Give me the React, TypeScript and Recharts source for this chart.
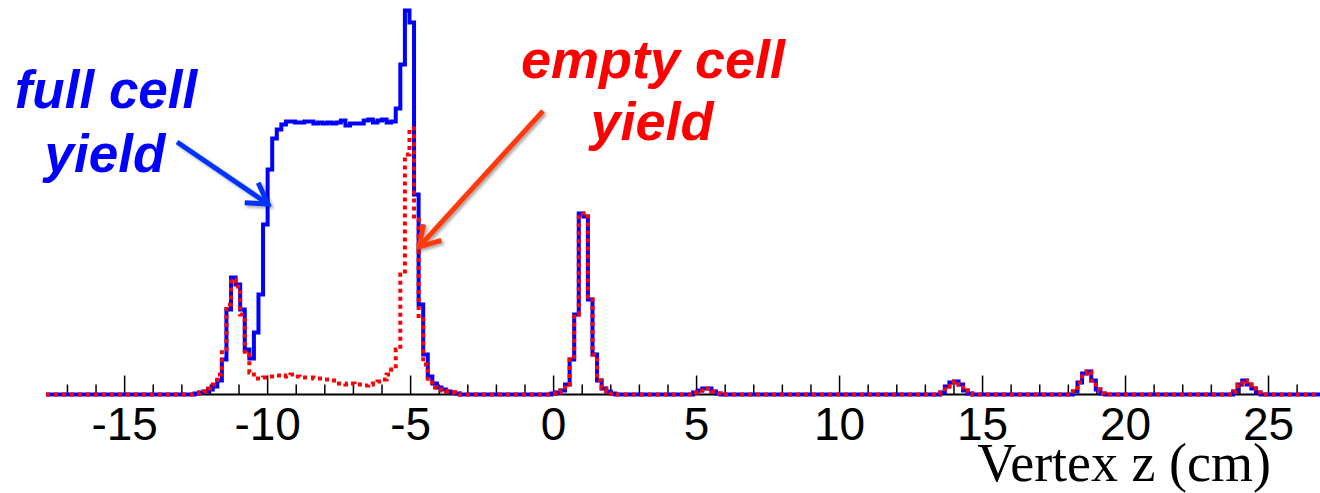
import { LineChart, Line, XAxis, YAxis } from 'recharts';

// histogram binning (cm)
const Z_MIN = -17.75;
const Z_MAX = 26.8;
const BIN_ORIGIN = -12.56;
const BIN_WIDTH = 0.16;

const majorTicks = [-15, -10, -5, 0, 5, 10, 15, 20, 25];
const minorTicks = [-17, -16, -15, -14, -13, -12, -11, -10, -9, -8, -7, -6, -5, -4, -3, -2, -1, 0, 1, 2, 3, 4, 5, 6, 7, 8, 9, 10, 11, 12, 13, 14, 15, 16, 17, 18, 19, 20, 21, 22, 23, 24, 25, 26];

// full cell: window peak, LH2 plateau, exit window
const fullTargetCounts = [
  1, 2, 3, 5, 8, 14, 35, 85, 117, 110,
  85, 45, 36, 62, 100, 170, 225, 256, 265, 270,
  273, 273, 272, 272, 273, 273, 271, 272, 271, 272,
  271, 272, 274, 269, 271, 271, 271, 274, 275, 272,
  274, 275, 272, 273, 286, 330, 384, 372, 200, 90,
  40, 18, 11, 7, 5, 3, 2, 1,
];
// empty cell: same windows, only gas left in between
const emptyTargetCounts = [
  1, 2, 3, 6, 10, 20, 45, 90, 115, 108,
  80, 40, 22, 16, 16, 17, 18, 18, 19, 18,
  19, 20, 18, 17, 17, 17, 16, 16, 15, 15,
  14, 11, 11, 10, 11, 10, 10, 9, 10, 11,
  13, 15, 20, 25, 45, 120, 240, 266, 175, 75,
  30, 12, 7, 5, 4, 3, 2, 1,
];
const peakAt1 = [1, 2, 4, 10, 35, 80, 181, 178, 95, 40, 14, 6, 3, 1];
const bumpAt5 = [2, 4, 6, 6, 3, 1];
const bumpAt14 = [2, 8, 12, 13, 10, 4, 1];
const bumpAt19 = [3, 12, 21, 23, 14, 5, 1];
const bumpAt24 = [3, 10, 14, 10, 6, 2];

const fullRuns = [
  { from: -12.56, counts: fullTargetCounts },
  { from: -0.08, counts: peakAt1 },
  { from: 4.88, counts: bumpAt5 },
  { from: 13.52, counts: bumpAt14 },
  { from: 18.16, counts: bumpAt19 },
  { from: 23.76, counts: bumpAt24 },
];
const emptyRuns = [
  { from: -12.56, counts: emptyTargetCounts },
  { from: -0.08, counts: peakAt1 },
  { from: 4.88, counts: bumpAt5 },
  { from: 13.52, counts: bumpAt14 },
  { from: 18.16, counts: bumpAt19 },
  { from: 23.76, counts: bumpAt24 },
];

function toBins(runs: { from: number; counts: number[] }[]) {
  const m = new Map<number, number>();
  runs.forEach(r => {
    const start = Math.round((r.from - BIN_ORIGIN) / BIN_WIDTH);
    r.counts.forEach((c, k) => m.set(start + k, c));
  });
  return m;
}

const fullBins = toBins(fullRuns);
const emptyBins = toBins(emptyRuns);
const lastBin = Math.max(...fullBins.keys(), ...emptyBins.keys()) + 1;

const rows: { z: number; full: number; empty: number }[] = [{ z: Z_MIN, full: 0, empty: 0 }];
for (let i = 0; i <= lastBin; i++) {
  rows.push({ z: BIN_ORIGIN + i * BIN_WIDTH, full: fullBins.get(i) ?? 0, empty: emptyBins.get(i) ?? 0 });
}
rows.push({ z: Z_MAX, full: 0, empty: 0 });

const AxisTick = ({ x, y, payload }: any) => {
  const major = majorTicks.includes(payload.value);
  return (
    <g>
      <line x1={x} x2={x} y1={y} y2={y - (major ? 19 : 10)} stroke="#000" strokeWidth={1.5} />
      {major && (
        <text x={x} y={y + 45} textAnchor="middle" fontSize={46} fill="#000"
          fontFamily="'Liberation Sans', Arial, sans-serif">
          {payload.value}
        </text>
      )}
    </g>
  );
};

const annoFont = "'Liberation Sans', Arial, sans-serif";
const margin = { top: 4.5, right: 0, bottom: 0, left: 46 };
const layer = { position: 'absolute' as const, left: 0, top: 0 };

export default function App() {
  return (
    <div style={{ position: 'absolute', left: 0, top: 0, width: 1320, height: 493, background: '#fff' }}>
      {/* axis layer, under the histograms */}
      <div style={layer}>
        <LineChart width={1320} height={493} data={rows} margin={margin}>
          <XAxis type="number" dataKey="z" domain={[Z_MIN, Z_MAX]} ticks={minorTicks} interval={0}
            tickLine={false} tickSize={0} tickMargin={0} height={98.5}
            axisLine={{ stroke: '#000', strokeWidth: 2 }} tick={<AxisTick />} />
          <YAxis hide domain={[0, 390]} />
        </LineChart>
      </div>
      {/* histogram layer */}
      <div style={layer}>
        <LineChart width={1320} height={493} data={rows} margin={margin}>
          <XAxis type="number" dataKey="z" domain={[Z_MIN, Z_MAX]} ticks={minorTicks} tick={false}
            tickLine={false} axisLine={false} height={98.5} />
          <YAxis hide domain={[0, 390]} />
          <Line type="stepAfter" dataKey="full" stroke="#0000ff" strokeWidth={4} dot={false} activeDot={false}
            strokeLinejoin="miter" isAnimationActive={false} />
          <Line type="stepAfter" dataKey="empty" stroke="#ff0000" strokeWidth={4} strokeDasharray="4 4"
            dot={false} activeDot={false} strokeLinejoin="miter" isAnimationActive={false} />
        </LineChart>
      </div>
      <svg width={1320} height={493} style={{ ...layer, pointerEvents: 'none' }}>
        <defs>
          <filter id="shadow" x="-20%" y="-20%" width="140%" height="140%">
            <feDropShadow dx="2" dy="2" stdDeviation="1.5" floodOpacity="0.35" />
          </filter>
          <marker id="headBlue" viewBox="-26 -16 30 32" markerWidth={30} markerHeight={32} refX={0} refY={0}
            orient="auto" markerUnits="userSpaceOnUse">
            <path d="M-20,-12 L0,0 L-20,12" fill="none" stroke="#0033ff" strokeWidth={5} strokeLinejoin="miter" />
          </marker>
          <marker id="headRed" viewBox="-26 -16 30 32" markerWidth={30} markerHeight={32} refX={0} refY={0}
            orient="auto" markerUnits="userSpaceOnUse">
            <path d="M-20,-12 L0,0 L-20,12" fill="none" stroke="#ff3a0a" strokeWidth={5} strokeLinejoin="miter" />
          </marker>
        </defs>
        <line x1={177} y1={142} x2={268} y2={204} stroke="#0033ff" strokeWidth={5}
          markerEnd="url(#headBlue)" filter="url(#shadow)" />
        <line x1={543} y1={111} x2={419} y2={247} stroke="#ff3a0a" strokeWidth={5}
          markerEnd="url(#headRed)" filter="url(#shadow)" />
        <g fontFamily={annoFont} fontWeight="bold" fontStyle="italic" textAnchor="middle">
          <text x={106} y={108} fontSize={53} fill="#0000ff">full cell</text>
          <text x={105} y={172} fontSize={53} fill="#0000ff">yield</text>
          <text x={653} y={78} fontSize={54} fill="#ff0000">empty cell</text>
          <text x={652} y={140} fontSize={54} fill="#ff0000">yield</text>
        </g>
        <text x={1271} y={481} textAnchor="end" fontSize={54} fill="#000"
          fontFamily="'Liberation Serif', 'Times New Roman', serif">Vertex z (cm)</text>
      </svg>
    </div>
  );
}
